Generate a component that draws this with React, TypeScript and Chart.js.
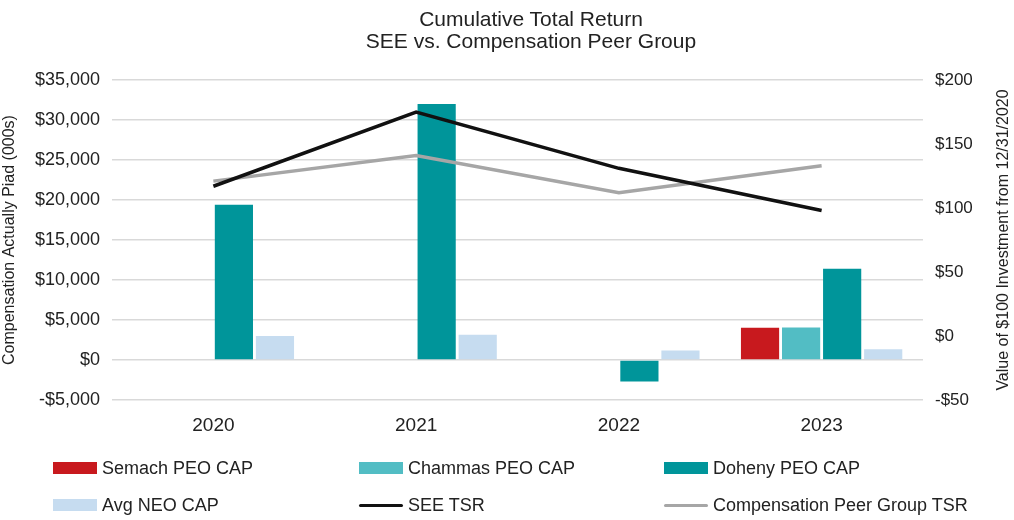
import React, { useEffect, useRef } from "react";
import { Chart, registerables } from "chart.js";

Chart.register(...registerables);

const categories = ["2020", "2021", "2022", "2023"];
const semachCap = [null, null, null, 4040];
const chammasCap = [null, null, null, 4050];
const dohenyCap = [19400, 32000, -2700, 11400];
const avgNeoCap = [3000, 3150, 1200, 1330];
const seeTsr = [117, 175, 131, 98];
const peerTsr = [121, 141, 112, 133];

const leftTicks = { min: -5000, max: 35000, step: 5000 };
const rightTicks = { min: -50, max: 200, step: 50 };

const rightTitle = "Value of $100 Investment from 12/31/2020";

const FONT = "'Liberation Sans', Arial, sans-serif";
const TEXT = "#222222";

const colors = {
  semach: "#C8191E",
  chammas: "#52BDC4",
  doheny: "#00959A",
  avgNeo: "#C6DCF0",
  see: "#111111",
  peer: "#A6A6A6",
};

function money(v: number): string {
  const abs = Math.abs(v).toLocaleString("en-US");
  return (v < 0 ? "-$" : "$") + abs;
}

const legendItems = [
  { label: "Semach PEO CAP", color: colors.semach, type: "box", left: 53, top: 468 },
  { label: "Chammas PEO CAP", color: colors.chammas, type: "box", left: 359, top: 468 },
  { label: "Doheny PEO CAP", color: colors.doheny, type: "box", left: 664, top: 468 },
  { label: "Avg NEO CAP", color: colors.avgNeo, type: "box", left: 53, top: 505 },
  { label: "SEE TSR", color: colors.see, type: "line", left: 359, top: 505 },
  { label: "Compensation Peer Group TSR", color: colors.peer, type: "line", left: 664, top: 505 },
];

const rightTitlePlugin = {
  id: "rightTitle",
  afterDraw(chart: any) {
    const { ctx, chartArea, width } = chart;
    ctx.save();
    ctx.translate(width - 10, (chartArea.top + chartArea.bottom) / 2);
    ctx.rotate(-Math.PI / 2);
    ctx.font = `16px ${FONT}`;
    ctx.fillStyle = TEXT;
    ctx.textAlign = "center";
    ctx.textBaseline = "middle";
    ctx.fillText(rightTitle, 0, 0);
    ctx.restore();
  },
};

export default function App() {
  const ref = useRef<HTMLCanvasElement | null>(null);

  useEffect(() => {
    if (!ref.current) return;
    const barCommon = {
      type: "bar" as const,
      yAxisID: "y",
      order: 2,
      barPercentage: 0.93,
      categoryPercentage: 0.81,
    };
    const chart = new Chart(ref.current, {
      type: "bar",
      data: {
        labels: categories,
        datasets: [
          { ...barCommon, label: "Semach PEO CAP", data: semachCap, backgroundColor: colors.semach },
          { ...barCommon, label: "Chammas PEO CAP", data: chammasCap, backgroundColor: colors.chammas },
          { ...barCommon, label: "Doheny PEO CAP", data: dohenyCap, backgroundColor: colors.doheny },
          { ...barCommon, label: "Avg NEO CAP", data: avgNeoCap, backgroundColor: colors.avgNeo },
          {
            type: "line",
            label: "SEE TSR",
            data: seeTsr,
            yAxisID: "y1",
            order: 0,
            borderColor: colors.see,
            borderWidth: 3.5,
            pointRadius: 0,
            tension: 0,
          },
          {
            type: "line",
            label: "Compensation Peer Group TSR",
            data: peerTsr,
            yAxisID: "y1",
            order: 1,
            borderColor: colors.peer,
            borderWidth: 3.5,
            pointRadius: 0,
            tension: 0,
          },
        ] as any,
      },
      options: {
        responsive: false,
        animation: false,
        devicePixelRatio: 1,
        layout: { padding: { top: 80, left: 0, right: 0, bottom: 0 } },
        plugins: {
          legend: { display: false },
          title: { display: false },
          tooltip: { enabled: false },
        },
        scales: {
          x: {
            grid: { display: false, drawTicks: false },
            border: { display: false },
            ticks: { color: TEXT, font: { family: FONT, size: 19 }, padding: 14 },
            afterFit: (s: any) => {
              s.height = 120;
            },
          },
          y: {
            position: "left",
            min: leftTicks.min,
            max: leftTicks.max,
            ticks: {
              stepSize: leftTicks.step,
              color: TEXT,
              font: { family: FONT, size: 18 },
              padding: 12,
              callback: (v: any) => money(Number(v)),
            },
            grid: { color: "#D9D9D9", lineWidth: 1.6, drawTicks: false },
            border: { display: false },
            title: {
              display: true,
              text: "Compensation Actually Piad (000s)",
              color: TEXT,
              font: { family: FONT, size: 16 },
              padding: 0,
            },
            afterFit: (s: any) => {
              s.width = 112;
            },
          },
          y1: {
            position: "right",
            min: rightTicks.min,
            max: rightTicks.max,
            ticks: {
              stepSize: rightTicks.step,
              color: TEXT,
              font: { family: FONT, size: 17 },
              padding: 12,
              callback: (v: any) => money(Number(v)),
            },
            grid: { display: false, drawTicks: false },
            border: { display: false },
            title: { display: false },
            afterFit: (s: any) => {
              s.width = 91;
            },
          },
        },
      } as any,
      plugins: [rightTitlePlugin],
    });
    return () => chart.destroy();
  }, []);

  return (
    <div
      style={{
        position: "absolute",
        left: 0,
        top: 0,
        width: 1014,
        height: 520,
        background: "#ffffff",
        fontFamily: FONT,
        color: TEXT,
        overflow: "hidden",
      }}
    >
      <canvas ref={ref} width={1014} height={520} style={{ position: "absolute", left: 0, top: 0 }} />
      <div
        style={{
          position: "absolute",
          left: 331,
          width: 400,
          top: 8,
          textAlign: "center",
          fontSize: 21,
          lineHeight: "22px",
        }}
      >
        Cumulative Total Return
        <br />
        SEE vs. Compensation Peer Group
      </div>
      {legendItems.map((it) => (
        <div
          key={it.label}
          style={{
            position: "absolute",
            left: it.left,
            top: it.top - 11,
            height: 22,
            display: "flex",
            alignItems: "center",
            fontSize: 18,
            whiteSpace: "nowrap",
          }}
        >
          <span
            style={{
              display: "inline-block",
              width: 44,
              height: it.type === "box" ? 12 : 3,
              background: it.color,
              marginRight: 5,
              borderRadius: it.type === "line" ? 2 : 0,
            }}
          />
          {it.label}
        </div>
      ))}
    </div>
  );
}
